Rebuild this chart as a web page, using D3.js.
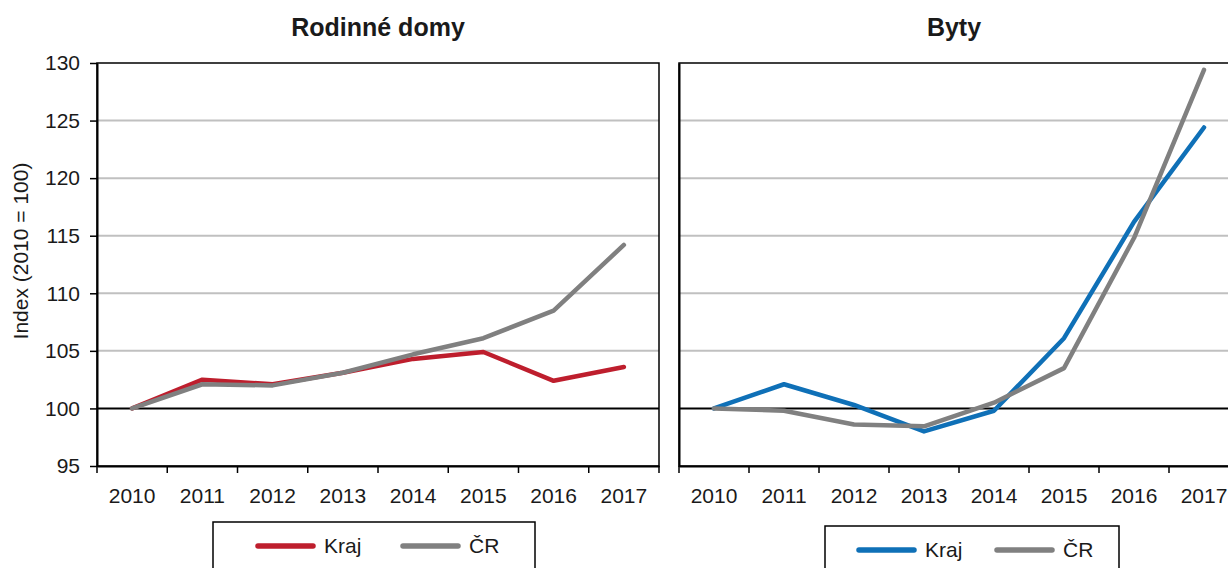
<!DOCTYPE html>
<html><head><meta charset="utf-8">
<script src="https://cdn.jsdelivr.net/npm/d3@7"></script>
<style>body{margin:0;background:#fff}svg{display:block}text{font-family:"Liberation Sans",Arial,sans-serif;fill:#1a1a1a}</style>
</head><body>
<svg id="c" width="1228" height="568"></svg>
<script>
const years = ["2010","2011","2012","2013","2014","2015","2016","2017"];
const rdKraj = [100, 102.5, 102.1, 103.1, 104.3, 104.9, 102.4, 103.6];
const rdCR   = [100, 102.1, 102.0, 103.1, 104.7, 106.1, 108.5, 114.2];
const btKraj = [100, 102.1, 100.3, 98.0, 99.8, 106.1, 116.2, 124.4];
const btCR   = [100, 99.8, 98.6, 98.45, 100.5, 103.5, 114.8, 129.4];
const yTicks = [95,100,105,110,115,120,125,130];
const titles = ["Rodinné domy","Byty"];
const legendLabels = ["Kraj","ČR"];
const colors = {red:"#be1e2d", blue:"#0f70b7", gray:"#808080"};

const svg = d3.select("#c");
const plotTop = 63, plotBottom = 466;
const y = d3.scaleLinear().domain([95,130]).range([plotBottom, plotTop]);
const FS = 21;

const panels = [
  {x0:97, x1:659, tx:378, title:titles[0], series:[{v:rdKraj,c:colors.red},{v:rdCR,c:colors.gray}], yLabels:true,
   legend:{bx:213, by:522, bw:322, ly:546, items:[{x:258,c:colors.red,t:legendLabels[0]},{x:403,c:colors.gray,t:legendLabels[1]}]}},
  {x0:679, x1:1239, tx:954, title:titles[1], series:[{v:btKraj,c:colors.blue},{v:btCR,c:colors.gray}], yLabels:false,
   legend:{bx:825, by:526, bw:294, ly:550, items:[{x:859,c:colors.blue,t:legendLabels[0]},{x:997,c:colors.gray,t:legendLabels[1]}]}}
];

panels.forEach(p => {
  const g = svg.append("g");
  const x = d3.scaleBand().domain(years).range([p.x0, p.x1]);
  g.selectAll(".grid").data(yTicks.filter(t => t!==95 && t!==130 && t!==100)).enter().append("line")
    .attr("x1", p.x0).attr("x2", p.x1).attr("y1", d=>y(d)).attr("y2", d=>y(d))
    .attr("stroke", "#c0c0c0").attr("stroke-width", 2);
  g.append("rect").attr("x", p.x0).attr("y", plotTop).attr("width", p.x1-p.x0).attr("height", plotBottom-plotTop)
    .attr("fill","none").attr("stroke","#000").attr("stroke-width",1.5);
  const ya = d3.axisLeft(y).tickValues(yTicks).tickSize(p.yLabels?7:0).tickSizeOuter(0).tickPadding(10);
  if(!p.yLabels) ya.tickFormat("");
  const yg = g.append("g").attr("transform",`translate(${p.x0},0)`).call(ya);
  yg.attr("font-family",null).attr("font-size",null);
  yg.select(".domain").attr("stroke","#000").attr("stroke-width",2);
  yg.selectAll("line").attr("stroke","#000").attr("stroke-width",1.5);
  yg.selectAll("text").attr("font-size",FS).style("fill","#1a1a1a");
  const xa = d3.axisBottom(x).tickSize(0).tickSizeOuter(0);
  const xg = g.append("g").attr("transform",`translate(0,${plotBottom})`).call(xa);
  xg.attr("font-family",null).attr("font-size",null);
  xg.select(".domain").attr("stroke","#000").attr("stroke-width",2);
  xg.selectAll("text").attr("font-size",FS).attr("dy",0).attr("y",37).style("fill","#1a1a1a");
  const bounds = years.map(d => x(d)).concat([p.x1]);
  g.selectAll(".xt").data(bounds).enter().append("line")
    .attr("x1",d=>d).attr("x2",d=>d).attr("y1",plotBottom).attr("y2",plotBottom+7)
    .attr("stroke","#000").attr("stroke-width",1.5);
  g.append("line").attr("x1",p.x0).attr("x2",p.x1).attr("y1",y(100)).attr("y2",y(100))
    .attr("stroke","#000").attr("stroke-width",2);
  const line = d3.line().x((d,i)=>x(years[i])+x.bandwidth()/2).y(d=>y(d));
  p.series.forEach(s => {
    g.append("path").datum(s.v).attr("d",line).attr("fill","none")
      .attr("stroke",s.c).attr("stroke-width",4.5).attr("stroke-linejoin","round").attr("stroke-linecap","round");
  });
  g.append("text").attr("x",p.tx).attr("y",36)
    .attr("text-anchor","middle").attr("font-size",25).attr("font-weight","bold").text(p.title);
  const L = p.legend;
  g.append("rect").attr("x",L.bx).attr("y",L.by).attr("width",L.bw).attr("height",80)
    .attr("fill","#fff").attr("stroke","#000").attr("stroke-width",1.5);
  L.items.forEach(it => {
    g.append("line").attr("x1",it.x).attr("x2",it.x+55).attr("y1",L.ly).attr("y2",L.ly)
      .attr("stroke",it.c).attr("stroke-width",5.5).attr("stroke-linecap","round");
    g.append("text").attr("x",it.x+66).attr("y",L.ly+7).attr("font-size",FS).text(it.t);
  });
});
svg.append("text").attr("transform","translate(28,251) rotate(-90)").attr("text-anchor","middle")
  .attr("font-size",FS).text("Index (2010 = 100)");
</script>
</body></html>
